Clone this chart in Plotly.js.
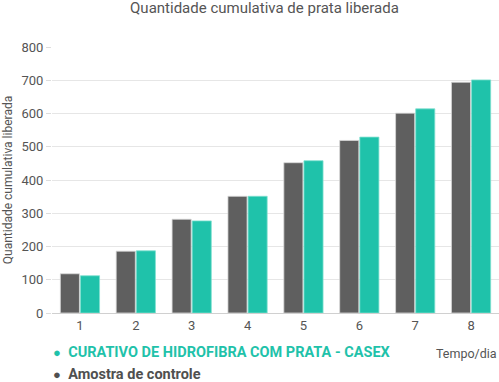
<!DOCTYPE html>
<html>
<head>
<meta charset="utf-8">
<script src="https://cdn.plot.ly/plotly-3.0.1.min.js"></script>
<style>html,body{margin:0;padding:0;background:#fff;}#chart{width:499px;height:382px;}</style>
</head>
<body>
<div id="chart"></div>
<script>
var categories = ['1', '2', '3', '4', '5', '6', '7', '8'];
var controleValues = [118, 186, 282, 351, 452, 519, 601, 694];
var casexValues = [112, 187, 277, 351, 458, 529, 614, 701];
var yTicks = [0, 100, 200, 300, 400, 500, 600, 700, 800];
var casexName = 'CURATIVO DE HIDROFIBRA COM PRATA - CASEX';
var controleName = 'Amostra de controle';
var titleText = 'Quantidade cumulativa de prata liberada';
var yTitleText = 'Quantidade cumulativa liberada';
var xTitleText = 'Tempo/dia';

var teal = '#1fc2aa';
var dark = '#5f5f5f';

function legendLabel(color, text) {
  return '<span style="color:' + color + '"><span style="font-size:13px">●</span>&nbsp;&nbsp;<b>' + text + '</b></span>';
}

var traces = [
  {type: 'bar', x: categories, y: controleValues, name: controleName, showlegend: false,
   marker: {color: dark, line: {color: '#d8d8d8', width: 0.8}}, hoverinfo: 'x+y'},
  {type: 'bar', x: categories, y: casexValues, name: casexName, showlegend: false,
   marker: {color: teal, line: {color: '#7fe0cf', width: 0.8}}, hoverinfo: 'x+y'},
  {type: 'scatter', mode: 'markers', x: [null], y: [null],
   name: legendLabel(teal, casexName),
   marker: {color: 'rgba(0,0,0,0)', size: 1, line: {width: 0, color: 'rgba(0,0,0,0)'}}},
  {type: 'scatter', mode: 'markers', x: [null], y: [null],
   name: legendLabel('#505050', controleName),
   marker: {color: 'rgba(0,0,0,0)', size: 1, line: {width: 0, color: 'rgba(0,0,0,0)'}}}
];

var layout = {
  width: 499, height: 382,
  margin: {l: 52, r: 0, t: 47, b: 69, autoexpand: false},
  paper_bgcolor: '#ffffff', plot_bgcolor: '#ffffff',
  font: {family: 'Roboto, sans-serif', color: '#555555', size: 12},
  title: {text: titleText, x: 0.53, xanchor: 'center', y: 0.993, yanchor: 'top',
          pad: {t: 0, b: 0}, font: {size: 15, color: '#555555'}},
  barmode: 'group', bargap: 0.28, bargroupgap: 0.05,
  xaxis: {type: 'category', tickfont: {size: 13, color: '#555555'}, showgrid: false,
          showline: true, linecolor: '#d0d0d0', linewidth: 1, ticks: '', fixedrange: true},
  yaxis: {range: [0, 800], tickvals: yTicks, tickfont: {size: 13, color: '#555555'},
          gridcolor: '#e6e6e6', gridwidth: 1, zeroline: false, showline: false,
          ticks: 'outside', ticklen: 5, tickcolor: '#dddddd', fixedrange: true,
          title: {text: yTitleText, font: {size: 12, color: '#555555'}, standoff: 6}},
  showlegend: true,
  legend: {orientation: 'v', x: -0.087, xanchor: 'left', y: -0.083, yanchor: 'top',
           font: {size: 14.5}, bgcolor: 'rgba(0,0,0,0)', itemclick: false, tracegroupgap: 0},
  annotations: [{text: xTitleText, xref: 'paper', yref: 'paper', x: 1, xanchor: 'right',
                 y: -0.154, yanchor: 'middle', showarrow: false,
                 font: {size: 12.5, color: '#555555'}}]
};

Plotly.newPlot('chart', traces, layout, {displayModeBar: false, staticPlot: true});
</script>
</body>
</html>
